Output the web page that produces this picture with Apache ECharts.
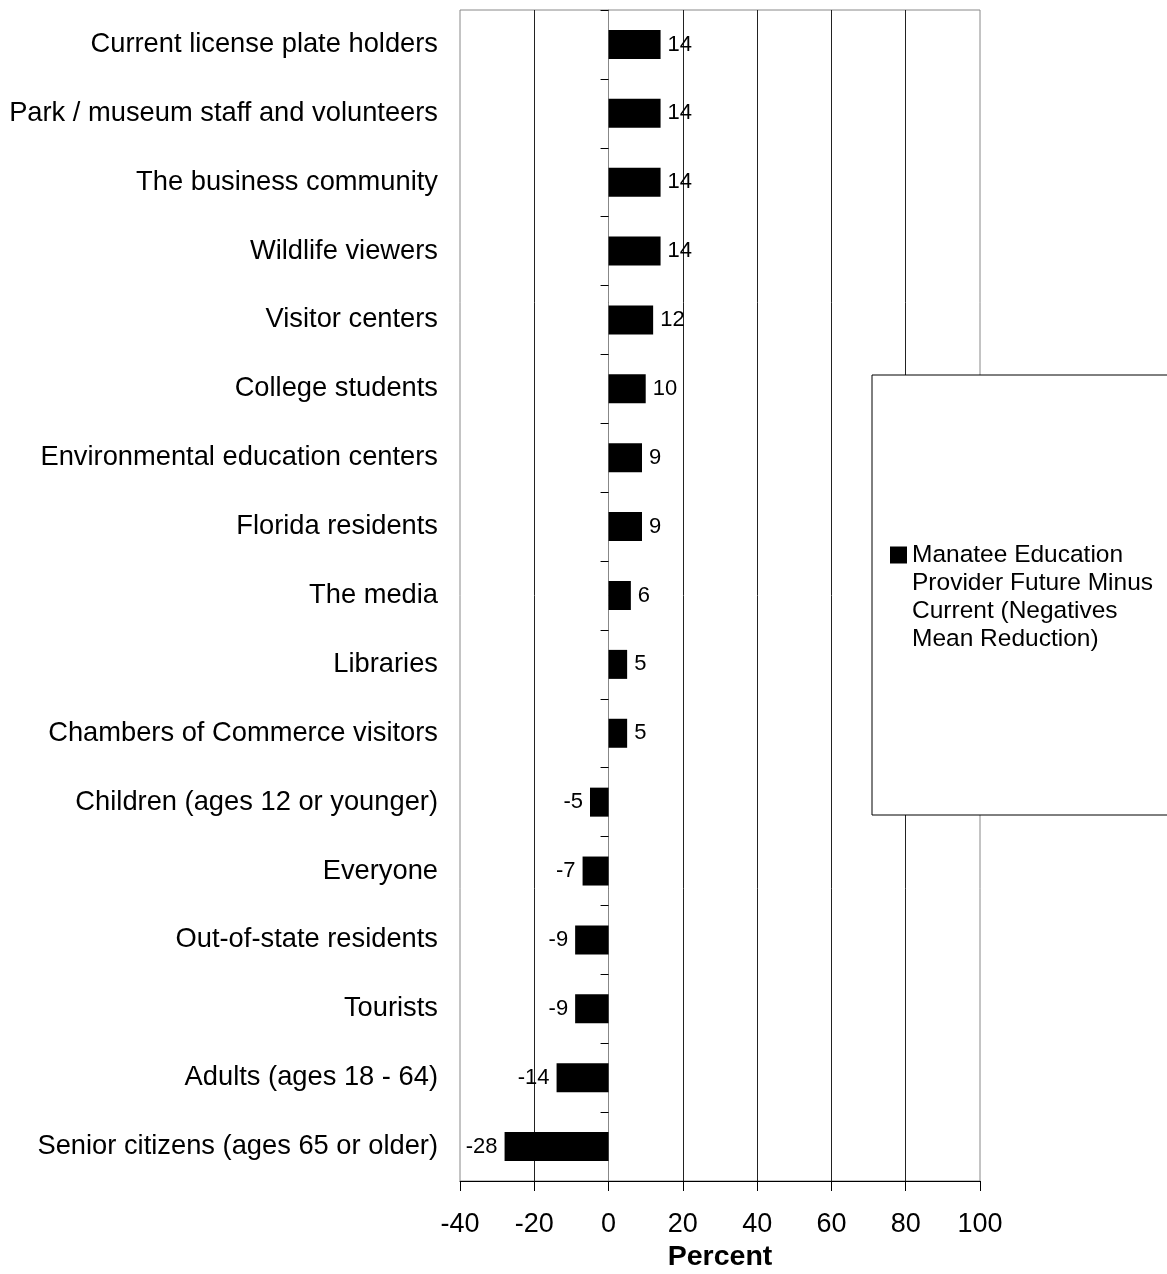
<!DOCTYPE html>
<html>
<head>
<meta charset="utf-8">
<script src="https://cdn.jsdelivr.net/npm/echarts@6/dist/echarts.min.js"></script>
<style>
  html, body { margin: 0; padding: 0; background: #fff; }
  #chart { width: 1167px; height: 1274px; }
</style>
</head>
<body>
<div id="chart"></div>
<script>
// Audiences, listed top to bottom
const categories = [
  'Current license plate holders',
  'Park / museum staff and volunteers',
  'The business community',
  'Wildlife viewers',
  'Visitor centers',
  'College students',
  'Environmental education centers',
  'Florida residents',
  'The media',
  'Libraries',
  'Chambers of Commerce visitors',
  'Children (ages 12 or younger)',
  'Everyone',
  'Out-of-state residents',
  'Tourists',
  'Adults (ages 18 - 64)',
  'Senior citizens (ages 65 or older)'
];

// Future minus current, percent (negatives mean reduction)
const values = [14, 14, 14, 14, 12, 10, 9, 9, 6, 5, 5, -5, -7, -9, -9, -14, -28];

const seriesName = 'Manatee Education\nProvider Future Minus\nCurrent (Negatives\nMean Reduction)';

// Category axis runs bottom-up, so reverse both lists for ECharts
const cats = categories.slice().reverse();
const vals = values.slice().reverse();

const barData = vals.map(v => ({
  value: v,
  label: { position: v < 0 ? 'left' : 'right' }
}));

const font = 'Liberation Sans, Arial, sans-serif';
const chart = echarts.init(document.getElementById('chart'), null, { renderer: 'canvas' });

chart.setOption({
  animation: false,
  backgroundColor: '#fff',
  textStyle: { fontFamily: font, color: '#000' },
  grid: {
    left: 460, right: 187, top: 10, bottom: 93,
    outerBoundsMode: 'none',
    containLabel: false,
    show: true, borderColor: '#888', borderWidth: 1, backgroundColor: 'transparent'
  },
  legend: {
    left: 872, top: 375,
    orient: 'vertical',
    data: [seriesName],
    icon: 'rect',
    itemWidth: 17, itemHeight: 17, itemGap: 0,
    padding: [82, 40, 162, 18],
    backgroundColor: '#fff',
    borderColor: '#000', borderWidth: 1,
    // three leading blank lines keep the swatch level with the first line of text
    formatter: name => '\n\n\n' + name,
    textStyle: { fontFamily: font, fontSize: 24.5, lineHeight: 28, color: '#000' },
    selectedMode: false
  },
  xAxis: {
    type: 'value',
    min: -40, max: 100, interval: 20,
    name: 'Percent',
    nameLocation: 'middle',
    nameGap: 60,
    nameTextStyle: { fontFamily: font, fontSize: 28.5, fontWeight: 'bold', color: '#000' },
    axisLine: { show: true, onZero: false, lineStyle: { color: '#000', width: 1 } },
    axisTick: { show: true, length: 10, lineStyle: { color: '#000' } },
    axisLabel: { fontFamily: font, fontSize: 27, color: '#000', margin: 30 },
    splitLine: { show: true, showMinLine: false, showMaxLine: false, lineStyle: { color: '#222', width: 1 } }
  },
  yAxis: [
    {
      type: 'category',
      data: cats,
      position: 'left',
      axisLine: { show: false, onZero: false },
      axisTick: { show: false },
      axisLabel: { fontFamily: font, fontSize: 27.3, color: '#000', margin: 22 },
      splitLine: { show: false }
    },
    {
      type: 'category',
      data: cats,
      position: 'left',
      axisLine: { show: true, onZero: true, lineStyle: { color: '#888', width: 1 } },
      axisTick: { show: true, length: 8, lineStyle: { color: '#000' } },
      axisLabel: { show: false },
      splitLine: { show: false }
    }
  ],
  series: [{
    name: seriesName,
    type: 'bar',
    yAxisIndex: 0,
    data: barData,
    barWidth: 29,
    itemStyle: { color: '#000' },
    label: {
      show: true,
      distance: 7,
      fontFamily: font,
      fontSize: 22,
      color: '#000'
    }
  }]
});
</script>
</body>
</html>
